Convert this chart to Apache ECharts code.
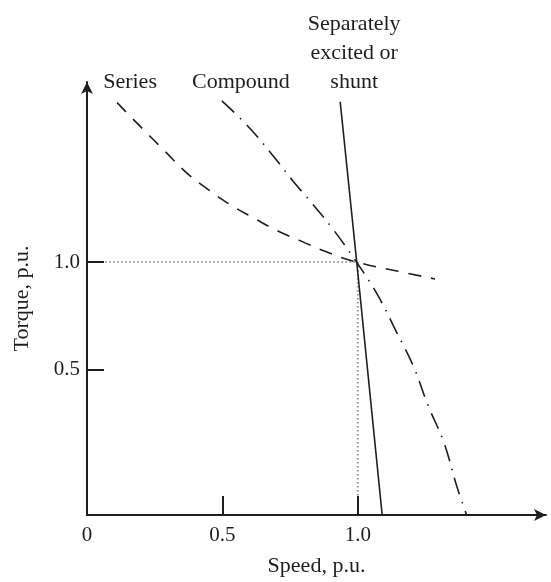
<!DOCTYPE html>
<html>
<head>
<meta charset="utf-8">
<script src="https://cdn.jsdelivr.net/npm/echarts@6/dist/echarts.min.js"></script>
<style>
  html, body { margin: 0; padding: 0; background: #fff; }
  #chart { width: 551px; height: 582px; }
</style>
</head>
<body>
<div id="chart"></div>
<script>
// ---- data ----
const seriesCurve = [[0.111,1.742],[0.203,1.623],[0.283,1.522],[0.369,1.414],[0.449,1.336],[0.529,1.267],[0.615,1.205],[0.707,1.143],[0.793,1.096],[0.879,1.050],[0.995,1.0],[1.149,0.957],[1.285,0.921]];
const compoundCurve = [[0.498,1.750],[0.596,1.630],[0.689,1.491],[0.762,1.375],[0.830,1.274],[0.910,1.150],[0.995,1.0],[1.072,0.849],[1.144,0.671],[1.205,0.516],[1.260,0.330],[1.318,0.160],[1.365,-0.042],[1.402,-0.178]];
const shuntLine = [[0.935,1.746],[0.996,1.0],[1.090,-0.178]];
const refHorizontal = [[0.068,1.0],[0.996,1.0]];
const refVertical = [[1.0,1.0],[1.0,-0.09]];
const curveNames = ['Series', 'Compound', 'Separately\nexcited or\nshunt'];
const xLabelValues = [0, 0.5, 1.0];
const xTickValues = [0.5, 1.0];
const yTickValues = [0.5, 1.0];
const xAxisTitle = 'Speed, p.u.';
const yAxisTitle = 'Torque, p.u.';

const FONT = '"Liberation Serif", "DejaVu Serif", serif';
const INK = '#1e1e1e';
const fmt = v => (v === 0 ? '0' : v.toFixed(1));

const chart = echarts.init(document.getElementById('chart'), null, { renderer: 'canvas' });
chart.setOption({
  animation: false,
  backgroundColor: '#fff',
  grid: { left: 87, right: 5, top: 82, bottom: 66, containLabel: false },
  xAxis: {
    type: 'value', min: 0, max: 1.695,
    name: xAxisTitle, nameLocation: 'middle', nameGap: 40,
    nameTextStyle: { fontFamily: FONT, fontSize: 22, color: INK },
    splitLine: { show: false },
    axisLine: { show: true, onZero: false, lineStyle: { color: INK, width: 2 }, symbol: ['none', 'arrow'], symbolSize: [9, 12] },
    axisTick: { show: true, inside: true, length: 19, lineStyle: { color: INK, width: 2 }, customValues: xTickValues },
    axisLabel: { show: true, margin: 10, fontFamily: FONT, fontSize: 21, color: INK, customValues: xLabelValues, formatter: fmt }
  },
  yAxis: {
    type: 'value', min: -0.178, max: 1.838,
    name: yAxisTitle, nameLocation: 'middle', nameGap: 54, nameRotate: 90,
    nameTextStyle: { fontFamily: FONT, fontSize: 22, color: INK },
    splitLine: { show: false },
    axisLine: { show: true, onZero: false, lineStyle: { color: INK, width: 2 }, symbol: ['none', 'arrow'], symbolSize: [9, 12] },
    axisTick: { show: true, inside: true, length: 17, lineStyle: { color: INK, width: 2 }, customValues: yTickValues },
    axisLabel: { show: true, margin: 7, fontFamily: FONT, fontSize: 21, color: INK, customValues: yTickValues, formatter: fmt }
  },
  series: [
    {
      name: 'refH', type: 'line', data: refHorizontal, showSymbol: false, silent: true,
      lineStyle: { color: '#999', width: 2, type: [1.5, 2.5] }
    },
    {
      name: 'refV', type: 'line', data: refVertical, showSymbol: false, silent: true,
      lineStyle: { color: '#999', width: 2, type: [1.5, 2.5] }
    },
    {
      name: 'Series', type: 'line', data: seriesCurve, smooth: 0.5, showSymbol: false,
      lineStyle: { color: INK, width: 1.6, type: [13, 10] }
    },
    {
      name: 'Compound', type: 'line', data: compoundCurve, smooth: 0.4, showSymbol: false,
      lineStyle: { color: INK, width: 1.6, type: [17, 8, 1.5, 8] }
    },
    {
      name: 'Shunt', type: 'line', data: shuntLine, showSymbol: false,
      lineStyle: { color: INK, width: 1.6, type: 'solid' }
    },
    {
      name: 'labels', type: 'scatter', symbolSize: 0.01, silent: true,
      itemStyle: { color: INK, opacity: 1 },
      emphasis: { disabled: true },
      label: {
        show: true, position: 'top', formatter: '{b}', opacity: 1,
        textBorderWidth: 0, textShadowBlur: 0,
        fontFamily: FONT, fontSize: 22, lineHeight: 29, color: INK, align: 'center'
      },
      data: [
        { name: curveNames[0], value: seriesCurve[0], label: { offset: [13, -1] } },
        { name: curveNames[1], value: compoundCurve[0], label: { offset: [19, 1] } },
        { name: curveNames[2], value: shuntLine[0], label: { offset: [14, 0] } }
      ]
    }
  ]
});
</script>
</body>
</html>
